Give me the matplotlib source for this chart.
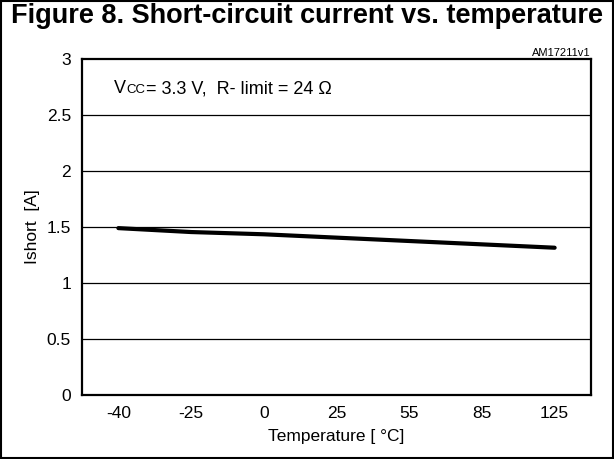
import matplotlib
matplotlib.use("Agg")
import matplotlib.pyplot as plt
from matplotlib.patches import Rectangle

plt.rcParams['font.family'] = ['Liberation Sans', 'DejaVu Sans']

categories = ["-40", "-25", "0", "25", "55", "85", "125"]
ishort = [1.49, 1.455, 1.435, 1.405, 1.375, 1.345, 1.315]
yticks = [0, 0.5, 1, 1.5, 2, 2.5, 3]
ytick_labels = ["0", "0.5", "1", "1.5", "2", "2.5", "3"]

W, H = 614, 459
fig = plt.figure(figsize=(W / 100, H / 100), dpi=100)

def fx(px):
    return px / W

def fy(py):
    return 1 - py / H

ax = fig.add_axes([fx(82), fy(395), fx(591) - fx(82), fy(59) - fy(395)])
x = list(range(len(categories)))
ax.plot(x, ishort, color='black', linewidth=3, solid_capstyle='round', zorder=3)
ax.set_xlim(-0.5, len(categories) - 0.5)
ax.set_ylim(0, 3)
ax.set_xticks(x)
ax.set_xticklabels(categories, fontsize=12.5)
ax.set_yticks(yticks)
ax.set_yticklabels(ytick_labels, fontsize=12.5)
ax.tick_params(length=0, pad=8)
ax.tick_params(axis='y', pad=8)
for v in yticks[1:-1]:
    ax.axhline(v, color='black', linewidth=0.9, zorder=1)
for s in ax.spines.values():
    s.set_linewidth(1.6)
ax.set_xlabel("Temperature [ °C]", fontsize=12.5, labelpad=6)
ax.set_ylabel("Ishort  [A]", fontsize=12.5, labelpad=5)

fig.text(fx(307), fy(3), "Figure 8. Short-circuit current vs. temperature",
         fontsize=19.5, fontweight='bold', ha='center', va='top')
fig.text(fx(591), fy(56), "AM17211v1", fontsize=8, ha='right', va='baseline')

fig.text(fx(114), fy(93), "V", fontsize=13, ha='left', va='baseline')
fig.text(fx(126), fy(93), "CC", fontsize=9.5, ha='left', va='baseline')
fig.text(fx(146), fy(93), "= 3.3 V,  R- limit = 24 Ω", fontsize=13, ha='left', va='baseline')

fig.patches.append(Rectangle((0.002, 0.002), 0.996, 0.996, transform=fig.transFigure,
                             fill=False, edgecolor='black', linewidth=1.5))

fig.savefig("out.png", dpi=100)
